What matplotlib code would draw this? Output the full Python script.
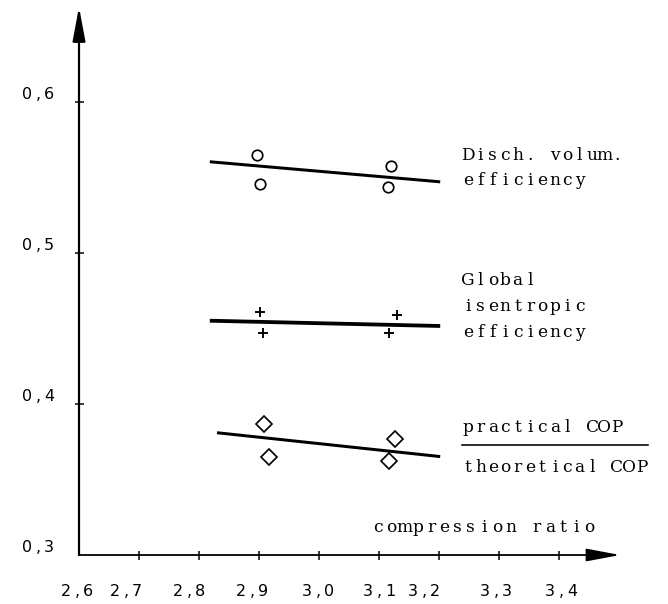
import numpy as np
import matplotlib
matplotlib.use("Agg")
import matplotlib.pyplot as plt

# measured points (two runs at each compression ratio)
volum_x = [2.896, 2.902, 3.120, 3.115]
volum_y = [0.565, 0.546, 0.558, 0.544]
isen_x = [2.902, 2.906, 3.130, 3.116]
isen_y = [0.461, 0.447, 0.459, 0.447]
cop_x = [2.908, 2.917, 3.127, 3.117]
cop_y = [0.387, 0.365, 0.377, 0.362]

# hand drawn trend lines
volum_fit_x = [2.818, 3.202]
volum_fit_y = [0.5605, 0.5472]
isen_fit_x = [2.818, 3.202]
isen_fit_y = [0.4552, 0.4517]
cop_fit_x = [2.830, 3.202]
cop_fit_y = [0.381, 0.3652]

x_ticks = [2.6, 2.7, 2.8, 2.9, 3.0, 3.1, 3.2, 3.3, 3.4]
x_labels = ["2,6", "2,7", "2,8", "2,9", "3,0", "3,1", "3,2", "3,3", "3,4"]
y_ticks = [0.3, 0.4, 0.5, 0.6]
y_labels = ["0,3", "0,4", "0,5", "0,6"]

# dpi 72 -> one point is one pixel
fig = plt.figure(figsize=(668 / 72.0, 604 / 72.0), dpi=72)
ax = fig.add_axes([79 / 668.0, 49 / 604.0, 552 / 668.0, 551 / 604.0])
ax.set_xlim(2.6, 3.52)
ax.set_ylim(0.3, 0.665)
for s in ax.spines.values():
	s.set_visible(False)


def typed(x, y, s, pitch, dx=0, dy=0, ha="left", **kw):
	# typewriter: every character gets the same cell width
	n = len(s)
	start = dx + pitch / 2.0 if ha == "left" else dx - (n - 1) * pitch / 2.0
	for i, ch in enumerate(s):
		if ch == " ":
			continue
		ax.annotate(ch, (x, y), xytext=(start + i * pitch, dy), textcoords="offset points",
			ha="center", va="baseline", annotation_clip=False, **kw)


# axes with arrow heads
arrow = dict(arrowstyle="-|>,head_length=1.6,head_width=0.3", color="k", lw=2.2,
	shrinkA=0, shrinkB=0, mutation_scale=18)
ax.annotate("", xy=(2.6, 0.663), xytext=(2.6, 0.3), arrowprops=arrow, annotation_clip=False)
arrow_x = dict(arrow, lw=1.8)
ax.annotate("", xy=(3.502, 0.3), xytext=(2.6, 0.3), arrowprops=arrow_x, annotation_clip=False)

ax.set_xticks(x_ticks[1:])
ax.set_yticks(y_ticks[1:])
ax.tick_params(direction="inout", length=9, width=1.5, labelbottom=False, labelleft=False)

tick_txt = dict(family="DejaVu Sans", fontsize=16)
x_nudge = [-2, -13, -10, -7, -1, 0, -15, -3, 2]
for xt, lab, nd in zip(x_ticks, x_labels, x_nudge):
	typed(xt, 0.3, lab, 11, dx=nd, dy=-41, ha="center", **tick_txt)
for yt, lab in zip(y_ticks, y_labels):
	typed(2.6, yt, lab, 11, dx=-41, dy=3, ha="center", **tick_txt)

# data
ax.plot(volum_fit_x, volum_fit_y, color="k", lw=3.0, solid_capstyle="butt")
ax.plot(isen_fit_x, isen_fit_y, color="k", lw=3.8, solid_capstyle="butt")
ax.plot(cop_fit_x, cop_fit_y, color="k", lw=3.0, solid_capstyle="butt")
ax.plot(volum_x, volum_y, "o", ms=10.5, mfc="white", mec="k", mew=1.7, ls="none")
ax.plot(isen_x, isen_y, "+", ms=10, mec="k", mew=1.9, ls="none")
ax.plot(cop_x, cop_y, "D", ms=11, mfc="white", mec="k", mew=1.7, ls="none")

# curve labels
txt = dict(family="DejaVu Serif", fontsize=17)
pitch = 12.4
lx = 3.238
typed(lx, 0.5649, "Disch. volum.", pitch, dy=-5, **txt)
typed(lx, 0.5483, "efficiency", pitch, dy=-5, **txt)
typed(lx, 0.4821, "Global", pitch, dy=-5, **txt)
typed(lx, 0.4649, "isentropic", pitch, dy=-5, **txt)
typed(lx, 0.4477, "efficiency", pitch, dy=-5, **txt)
typed(lx, 0.3848, "practical COP", pitch, dy=-5, **txt)
typed(lx, 0.3583, "theoretical COP", pitch, dy=-5, **txt)
ax.plot([lx, lx + 15 * pitch / 600.0], [0.3728, 0.3728], color="k", lw=1.6, clip_on=False)
typed(3.088, 0.3185, "compression ratio", 13.2, dy=-5, **txt)

fig.savefig("out.png", dpi=72)
